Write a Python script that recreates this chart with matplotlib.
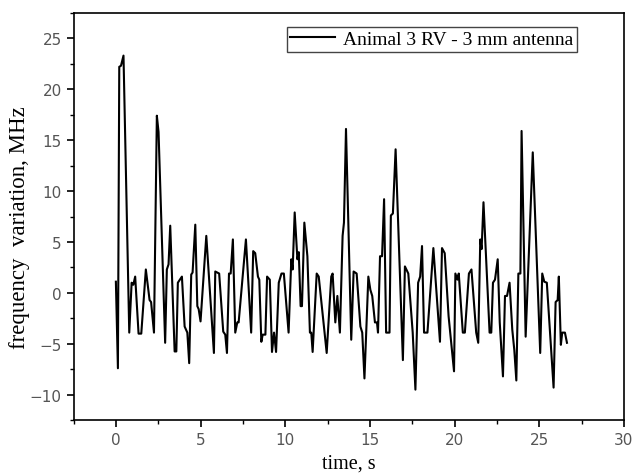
import matplotlib
matplotlib.use("Agg")
import matplotlib.pyplot as plt
from matplotlib.ticker import MultipleLocator

time_s = [0.00, 0.12, 0.20, 0.30, 0.45, 0.79, 0.93, 1.03, 1.14, 1.34, 1.50, 1.77, 1.99, 2.08, 2.25,
          2.42, 2.52, 2.91, 3.01, 3.11, 3.21, 3.47, 3.57, 3.66, 3.90, 4.06, 4.22, 4.33, 4.45, 4.53,
          4.69, 4.81, 4.89, 5.00, 5.34, 5.79, 5.87, 6.10, 6.34, 6.46, 6.56, 6.68, 6.78, 6.91, 7.05,
          7.17, 7.25, 7.68, 7.99, 8.11, 8.23, 8.39, 8.47, 8.59, 8.67, 8.83, 8.93, 9.09, 9.22, 9.34,
          9.46, 9.62, 9.78, 9.92, 10.20, 10.36, 10.44, 10.56, 10.72, 10.80, 10.91, 10.99, 11.13,
          11.31, 11.46, 11.54, 11.62, 11.86, 11.98, 12.45, 12.72, 12.80, 12.96, 13.08, 13.23, 13.39,
          13.47, 13.59, 13.90, 14.04, 14.22, 14.44, 14.55, 14.68, 14.91, 15.03, 15.14, 15.30, 15.42,
          15.48, 15.60, 15.72, 15.84, 15.96, 16.16, 16.24, 16.36, 16.52, 16.95, 17.07, 17.27, 17.53,
          17.69, 17.85, 17.97, 18.08, 18.20, 18.40, 18.75, 19.14, 19.26, 19.42, 19.65, 19.97, 20.05,
          20.17, 20.25, 20.49, 20.61, 20.85, 21.00, 21.28, 21.40, 21.52, 21.60, 21.71, 22.07, 22.17,
          22.27, 22.39, 22.55, 22.67, 22.86, 22.98, 23.10, 23.25, 23.41, 23.53, 23.65, 23.77, 23.89,
          23.96, 24.20, 24.62, 25.06, 25.18, 25.30, 25.45, 25.85, 25.97, 26.09, 26.16, 26.28, 26.36,
          26.52, 26.64]
freq_mhz = [1.1, -7.4, 22.2, 22.3, 23.3, -3.9, 1.0, 0.8, 1.6, -4.0, -4.0, 2.3, -0.7, -0.9, -3.9,
            17.4, 15.8, -4.9, 2.3, 2.8, 6.6, -5.75, -5.75, 1.0, 1.6, -3.3, -3.9, -6.9, 1.8, 2.0,
            6.7, -1.3, -1.6, -2.8, 5.6, -5.9, 2.1, 1.9, -3.8, -4.1, -5.9, 1.9, 1.9, 5.25, -3.9,
            -2.9, -2.9, 5.25, -3.9, 4.1, 3.9, 1.6, 1.3, -4.8, -4.1, -4.1, 1.6, 1.3, -5.8, -3.9,
            -5.8, 1.0, 1.9, 1.9, -3.9, 3.3, 2.3, 7.9, 3.3, 4.0, -1.3, -1.3, 6.9,
            3.6, -3.9, -3.9, -5.8, 1.9, 1.6, -5.9, 1.6, 1.9, -2.9, -0.3, -3.9, 5.6,
            6.9, 16.1, -4.6, 2.1, 1.9, -3.3, -3.9, -8.4, 1.6, 0.3, -0.3, -2.9, -2.9,
            -3.9, 3.6, 3.6, 9.2, -3.9, -3.9, 7.6, 7.8, 14.1, -6.6, 2.6, 1.9, -3.9,
            -9.5, 1.0, 1.6, 4.6, -3.9, -3.9, 4.4, -4.8, 4.4, 3.9, -2.3, -7.7, 1.9,
            1.3, 1.9, -3.9, -3.9, 1.9, 2.3, -3.9, -4.9, 5.25, 4.3, 8.9, -3.9, -3.9,
            1.0, 1.3, 3.3, -2.9, -8.2, -0.3, -0.3, 1.0, -3.6, -5.6, -8.6, 1.9, 1.9,
            15.9, -4.3, 13.8, -5.9, 1.9, 1.1, 1.0, -9.3, -0.9, -0.7, 1.6, -5.1, -3.9,
            -3.9, -4.9]

x_ticks = [0, 5, 10, 15, 20, 25, 30]
y_ticks = [-10, -5, 0, 5, 10, 15, 20, 25]
series_label = "Animal 3 RV - 3 mm antenna"

fig = plt.figure(figsize=(6.34, 4.77), dpi=100)
ax = fig.add_axes([0.116, 0.117, 0.868, 0.854])
ax.plot(time_s, freq_mhz, color="black", lw=1.5, label=series_label)

ax.set_xlim(-2.5, 30)
ax.set_ylim(-12.5, 27.5)
ax.set_xticks(x_ticks)
ax.set_yticks(y_ticks)
ax.xaxis.set_minor_locator(MultipleLocator(2.5))
ax.yaxis.set_minor_locator(MultipleLocator(2.5))
ax.tick_params(which="major", direction="out", length=5, width=1.2,
               labelsize=11, labelcolor="#555555", top=False, right=False)
ax.tick_params(which="minor", direction="out", length=3, width=1.0, top=False, right=False)
for lab in ax.get_xticklabels() + ax.get_yticklabels():
    lab.set_family("DejaVu Sans")
for sp in ax.spines.values():
    sp.set_linewidth(1.2)

ax.set_xlabel("time, s", family="Liberation Serif", fontsize=14.5, labelpad=5)
ax.set_ylabel("frequency  variation, MHz", family="Liberation Serif", fontsize=16.5)
ax.yaxis.set_label_coords(-0.079, 0.475)

leg = ax.legend(loc="upper right", bbox_to_anchor=(0.915, 0.966), borderaxespad=0,
                prop={"family": "Liberation Serif", "size": 14}, fancybox=False,
                edgecolor="#444444", framealpha=1, handlelength=2.3,
                borderpad=0.2, handletextpad=0.4)
leg.get_frame().set_linewidth(1.0)

fig.savefig("out.png", dpi=100)
